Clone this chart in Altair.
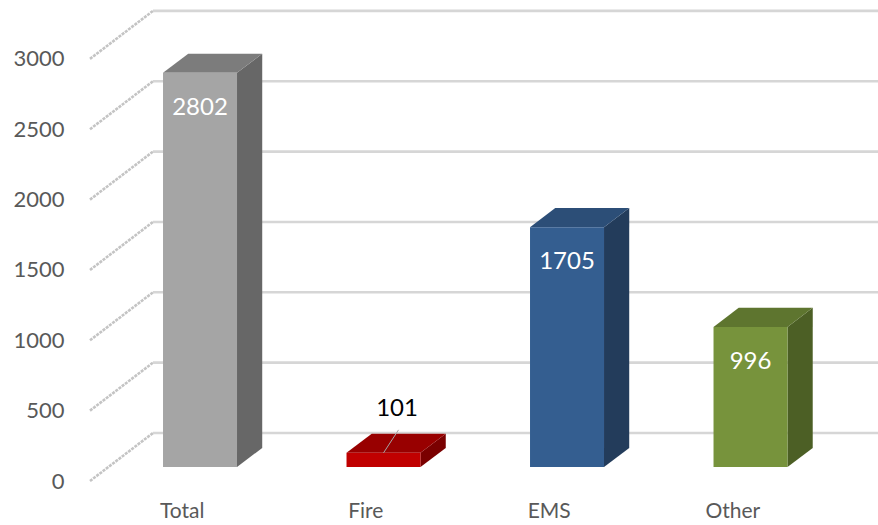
import json
import altair as alt
import pandas as pd

# ---------------- data ----------------
categories = ["Total", "Fire", "EMS", "Other"]
values = [2802, 101, 1705, 996]
front_colors = ["#a5a5a5", "#c00000", "#345e90", "#77933c"]
top_colors = ["#7c7c7c", "#980000", "#2c4e77", "#5e752f"]
side_colors = ["#676767", "#7a0000", "#233c5b", "#4c5f25"]
y_ticks = [0, 500, 1000, 1500, 2000, 2500, 3000]

# ---------------- geometry (style) ----------------
CAT_PX = 183.5          # pixels per category band
VAL_PX = 0.1407         # pixels per value unit
WALL_DX = 63 / CAT_PX   # depth offset of walls, in category units
WALL_DY = 48 / VAL_PX   # depth offset of walls, in value units
D_FRONT, D_BACK = 0.29, 0.69
BAR_W = 74 / CAT_PX
X_MIN, X_MAX = -10 / CAT_PX, 788 / CAT_PX
Y_MIN, Y_MAX = -14 / VAL_PX, 481 / VAL_PX
FONT = "Lato"

ddx = (D_BACK - D_FRONT) * WALL_DX
ddy = (D_BACK - D_FRONT) * WALL_DY

xs = alt.Scale(domain=[X_MIN, X_MAX], nice=False, zero=False)
ys = alt.Scale(domain=[Y_MIN, Y_MAX], nice=False, zero=False)
label_expr = json.dumps(categories) + "[floor(datum.value)]"
x_axis = alt.Axis(values=[i + 0.5 for i in range(len(categories))], labelExpr=label_expr,
                  title=None, domain=False, ticks=False, grid=False, labelFont=FONT,
                  labelFontSize=21, labelColor="#595959", labelPadding=5,
                  labelFlush=False, labelOverlap=False, labelBound=False)
y_axis = alt.Axis(values=y_ticks, format="d", title=None, domain=False, ticks=False, grid=False,
                  labelFont=FONT, labelFontSize=22, labelColor="#595959", labelPadding=16,
                  labelOverlap=False, labelFlush=False, labelBound=False)

def X(f="x"):
    return alt.X(f"{f}:Q", scale=xs, axis=x_axis)

def Y(f="y"):
    return alt.Y(f"{f}:Q", scale=ys, axis=y_axis)

# ---------------- grid ----------------
diag = pd.DataFrame({"x": [0.0] * len(y_ticks), "x2": [WALL_DX] * len(y_ticks),
                     "y": y_ticks, "y2": [v + WALL_DY for v in y_ticks]})
back = pd.DataFrame({"x": [WALL_DX] * len(y_ticks), "x2": [X_MAX] * len(y_ticks),
                     "y": [v + WALL_DY for v in y_ticks]})
diag_layer = alt.Chart(diag).mark_rule(color="#c4c4c4", strokeWidth=2.6, strokeDash=[3, 1]).encode(
    x=X(), x2="x2:Q", y=Y(), y2="y2:Q")
back_layer = alt.Chart(back).mark_rule(color="#d6d6d6", strokeWidth=2.6).encode(
    x=X(), x2="x2:Q", y=Y())

# ---------------- bars ----------------
front_rows, side_rows, top_rows, in_lab, out_lab, leader = [], [], [], [], [], []
for i, (c, v) in enumerate(zip(categories, values)):
    center = i + 0.5 + D_FRONT * WALL_DX
    xl, xr = center - BAR_W / 2, center + BAR_W / 2
    yb = D_FRONT * WALL_DY
    yt = yb + v
    front_rows.append({"cat": c, "x": xl, "x2": xr, "y": yb, "y2": yt, "col": front_colors[i]})
    side_rows += [{"cat": c, "x": xr, "y": yt, "y2": yb, "col": side_colors[i]},
                  {"cat": c, "x": xr + ddx, "y": yt + ddy, "y2": yb + ddy, "col": side_colors[i]}]
    top_rows += [{"cat": c, "y": yt, "x": xl, "x2": xr, "col": top_colors[i]},
                 {"cat": c, "y": yt + ddy, "x": xl + ddx, "x2": xr + ddx, "col": top_colors[i]}]
    if v >= 300:
        in_lab.append({"x": center, "y": yt, "t": str(v)})
    else:
        out_lab.append({"x": center + 13.5 / CAT_PX, "y": yt + 44 / VAL_PX, "t": str(v)})
        leader.append({"x": center, "y": yt, "x2": center + 15 / CAT_PX, "y2": yt + 23 / VAL_PX})

front_layer = alt.Chart(pd.DataFrame(front_rows)).mark_rect().encode(
    x=X(), x2="x2:Q", y=Y(), y2="y2:Q", color=alt.Color("col:N", scale=None))
side_layer = alt.Chart(pd.DataFrame(side_rows)).mark_area(interpolate="linear").encode(
    x=X(), y=Y(), y2="y2:Q", detail="cat:N", color=alt.Color("col:N", scale=None))
top_layer = alt.Chart(pd.DataFrame(top_rows)).mark_area(orient="horizontal", interpolate="linear").encode(
    y=Y(), x=X(), x2="x2:Q", detail="cat:N", color=alt.Color("col:N", scale=None))

in_layer = alt.Chart(pd.DataFrame(in_lab)).mark_text(
    color="white", font=FONT, fontSize=24, dy=35, baseline="middle", align="center").encode(
    x=X(), y=Y(), text="t:N")
out_layer = alt.Chart(pd.DataFrame(out_lab)).mark_text(
    color="black", font=FONT, fontSize=24, baseline="middle", align="center").encode(
    x=X(), y=Y(), text="t:N")
lead_layer = alt.Chart(pd.DataFrame(leader)).mark_rule(color="#a6a6a6", strokeWidth=1).encode(
    x=X(), x2="x2:Q", y=Y(), y2="y2:Q")

chart = alt.layer(
    diag_layer, back_layer, side_layer, top_layer, front_layer, lead_layer, in_layer, out_layer
).properties(
    width=798, height=495,
    autosize=alt.AutoSizeParams(type="none"),
    padding={"left": 80, "top": 0, "right": 0, "bottom": 30},
    background="white",
).configure_view(stroke=None)

chart.save("out.html", embed_options={"renderer": "svg", "actions": False})
